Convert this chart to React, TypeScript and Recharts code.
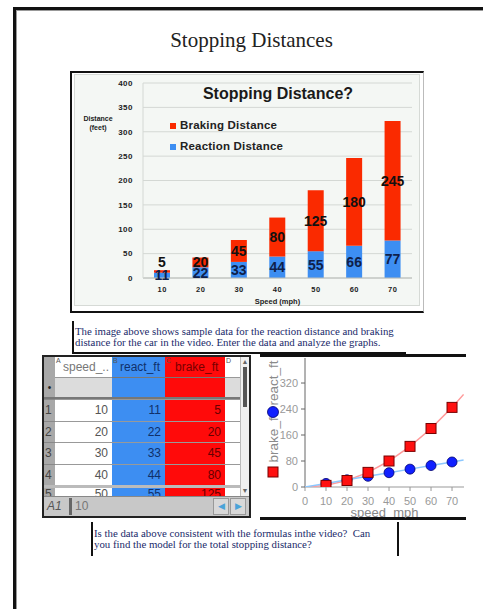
import React from 'react';
import { BarChart, Bar, XAxis, YAxis, CartesianGrid, Legend, LabelList, ScatterChart, Scatter } from 'recharts';

const speeds = [10, 20, 30, 40, 50, 60, 70];
const reactionFt = [11, 22, 33, 44, 55, 66, 77];
const brakingFt = [5, 20, 45, 80, 125, 180, 245];
const barYTicks = [0, 50, 100, 150, 200, 250, 300, 350, 400];
const scatterXTicks = [0, 10, 20, 30, 40, 50, 60, 70];
const scatterYTicks = [0, 80, 160, 240, 320];
const fitSpeeds = [0, 10, 20, 30, 40, 50, 60, 70, 75.5];
const fitBrake = [0, 5, 20, 45, 80, 125, 180, 245, 285];
const fitReact = [0, 11, 22, 33, 44, 55, 66, 77, 83];

const barData = speeds.map((s, i) => ({ speed: String(s), reaction: reactionFt[i], braking: brakingFt[i] }));
const reactPts = speeds.map((s, i) => ({ x: s, y: reactionFt[i] }));
const brakePts = speeds.map((s, i) => ({ x: s, y: brakingFt[i] }));
const reactFitPts = fitSpeeds.map((s, i) => ({ x: s, y: fitReact[i] }));
const brakeFitPts = fitSpeeds.map((s, i) => ({ x: s, y: fitBrake[i] }));

const SANS = 'Arial, "Liberation Sans", Helvetica, sans-serif';
const SERIF = '"Liberation Serif", "Times New Roman", serif';

const RED = '#fa2a00';
const BLUE = '#3d8ef2';

const reactLabel = (p: any) => {
  const { x, y, width, height, value } = p;
  return (
    <text x={x + width / 2} y={y + height / 2} dy="0.36em" textAnchor="middle" fontFamily={SANS} fontWeight={700} fontSize={14} fill="#0f1f4a">{value}</text>
  );
};
const brakeLabel = (p: any) => {
  const { x, y, width, height, value } = p;
  const cy = height < 8 ? y - 8 : y + height / 2;
  return (
    <text x={x + width / 2} y={cy} dy="0.36em" textAnchor="middle" fontFamily={SANS} fontWeight={700} fontSize={14} fill="#111">{value}</text>
  );
};

const BarLegend = () => (
  <div style={{ fontFamily: SANS, fontWeight: 700, fontSize: 11.5, color: '#222', lineHeight: '21px', letterSpacing: 0.2 }}>
    <div style={{ display: 'flex', alignItems: 'center' }}>
      <span style={{ display: 'inline-block', width: 6, height: 6, background: RED, marginRight: 4 }} />Braking Distance
    </div>
    <div style={{ display: 'flex', alignItems: 'center' }}>
      <span style={{ display: 'inline-block', width: 6, height: 6, background: BLUE, marginRight: 4 }} />Reaction Distance
    </div>
  </div>
);

const DistanceLabel = () => (
  <g>
    <text x={28} y={48} dy="0.35em" textAnchor="middle" fontFamily={SANS} fontWeight={700} fontSize={7} fill="#222">Distance</text>
    <text x={28} y={57} dy="0.35em" textAnchor="middle" fontFamily={SANS} fontWeight={700} fontSize={7} fill="#222">(feet)</text>
  </g>
);

const ScatterYLabel = (p: any) => {
  const vb = p.viewBox || { x: 0, y: 3 };
  const x = vb.x + 13;
  const y0 = vb.y;
  return (
    <g>
      <rect x={x - 5} y={y0 + 109} width={10} height={10} fill="#ff1010" stroke="#700" strokeWidth={1} />
      <text transform={`translate(${x},${y0 + 80}) rotate(-90)`} dy="0.35em" textAnchor="middle" fontFamily={SANS} fontSize={13.5} fill="#8a8a8a">brake_ft</text>
      <circle cx={x} cy={y0 + 54} r={5.5} fill="#1020ff" stroke="#000070" strokeWidth={0.8} />
      <text transform={`translate(${x},${y0 + 25}) rotate(-90)`} dy="0.35em" textAnchor="middle" fontFamily={SANS} fontSize={13.5} fill="#8a8a8a">react_ft</text>
    </g>
  );
};

const EmptyShape = () => <g />;
const CircleShape = (p: any) => <circle cx={p.cx} cy={p.cy} r={5} fill="#1020ff" stroke="#000070" strokeWidth={0.8} />;
const SquareShape = (p: any) => <rect x={p.cx - 5} y={p.cy - 5} width={10} height={10} fill="#ff1010" stroke="#700" strokeWidth={1} />;

const abs = (left: number, top: number, width: number, height: number, extra: any = {}) => ({
  position: 'absolute' as const, left, top, width, height, boxSizing: 'border-box' as const, ...extra,
});

const Spreadsheet = () => {
  const rowTops = [41, 62.5, 84, 105.5, 127];
  const cols = [
    { left: 11, width: 57, bg: '#fff', color: '#555', vals: speeds },
    { left: 68, width: 53, bg: BLUE, color: '#10306a', vals: reactionFt },
    { left: 121, width: 60, bg: '#ff0a0a', color: '#600', vals: brakingFt },
  ];
  return (
    <div style={abs(42, 355, 209, 163, { border: '2px solid #222', background: '#d0d0d0', overflow: 'hidden', fontFamily: SANS })}>
      <div style={abs(0, 0, 11, 139, { background: '#a8a8a8' })} />
      <div style={abs(11, 0, 57, 20, { background: '#fff', color: '#777', fontSize: 12, lineHeight: '20px', paddingLeft: 8 })}>speed_..</div>
      <div style={abs(68, 0, 53, 20, { background: BLUE, color: '#10306a', fontSize: 12, lineHeight: '20px', paddingLeft: 8 })}>react_ft</div>
      <div style={abs(121, 0, 60, 20, { background: '#ff0a0a', color: '#700', fontSize: 12, lineHeight: '20px', paddingLeft: 10 })}>brake_ft</div>
      <div style={abs(181, 0, 15, 20, { background: '#fff' })} />
      {['A', 'B', 'C', 'D'].map((c, i) => (
        <div key={c} style={abs([12, 69, 122, 182][i], 0, 8, 8, { fontSize: 7, color: '#555', lineHeight: '8px' })}>{c}</div>
      ))}
      <div style={abs(0, 20, 11, 21, { fontSize: 10, lineHeight: '21px', textAlign: 'center', color: '#222' })}>•</div>
      <div style={abs(11, 20, 57, 21, { background: '#dcdcdc', borderTop: '1px solid #999' })} />
      <div style={abs(68, 20, 53, 21, { background: BLUE, borderTop: '1px solid #777' })} />
      <div style={abs(121, 20, 60, 21, { background: '#ff0a0a', borderTop: '1px solid #777' })} />
      <div style={abs(181, 20, 15, 21, { background: '#dcdcdc', borderTop: '1px solid #999' })} />
      <div style={abs(0, 40, 196, 2, { background: '#777' })} />
      {rowTops.map((t, r) => {
        const last = r === 4;
        const bt = last ? '3px solid #bbb' : '1px solid #999';
        const lh = last ? '12px' : '20px';
        return (
          <React.Fragment key={r}>
            <div style={abs(0, t + 1, 11, 21.5, { color: '#444', fontSize: 12, lineHeight: lh, paddingLeft: 1, borderTop: last ? '3px solid #bbb' : '1px solid #888' })}>{r + 1}</div>
            {cols.map((c, ci) => (
              <div key={ci} style={abs(c.left, t + 1, c.width, 21.5, { background: c.bg, color: c.color, fontSize: 12, lineHeight: lh, textAlign: 'right', paddingRight: 4, borderTop: bt })}>{c.vals[r]}</div>
            ))}
            <div style={abs(181, t + 1, 15, 21.5, { background: '#fff', borderTop: bt })} />
          </React.Fragment>
        );
      })}
      <div style={abs(196, 0, 9, 139, { background: '#f0f0f0', borderLeft: '1px solid #bbb' })} />
      <div style={abs(197, 1, 8, 8, { fontSize: 7, color: '#666', textAlign: 'center', lineHeight: '8px' })}>▲</div>
      <div style={abs(199, 10, 4, 40, { background: '#555' })} />
      <div style={abs(197, 130, 8, 8, { fontSize: 7, color: '#666', textAlign: 'center', lineHeight: '8px' })}>▼</div>
      <div style={abs(0, 139, 205, 20, { background: '#c8c8c8', borderTop: '1px solid #888' })} />
      <div style={abs(3, 139, 18, 20, { fontSize: 12, fontStyle: 'italic', color: '#555', lineHeight: '20px' })}>A1</div>
      <div style={abs(25, 141, 3, 17, { background: '#666' })} />
      <div style={abs(31, 139, 40, 20, { fontSize: 12, color: '#777', lineHeight: '20px' })}>10</div>
      <div style={abs(169, 141, 16, 17, { background: '#d8d8d8', border: '1px solid #999', fontSize: 9, color: '#4aa3d8', textAlign: 'center', lineHeight: '15px' })}>◀</div>
      <div style={abs(186, 141, 16, 17, { background: '#d8d8d8', border: '1px solid #999', fontSize: 9, color: '#4aa3d8', textAlign: 'center', lineHeight: '15px' })}>▶</div>
    </div>
  );
};

export default function App() {
  return (
    <div style={{ position: 'absolute', left: 0, top: 0, width: 483, height: 609, overflow: 'hidden', background: '#fff' }}>
      <div style={abs(13, 7, 520, 640, { borderLeft: '3px solid #111', borderTop: '3px solid #111', boxShadow: 'inset 1px 1px 0 #999' })} />
      <div style={abs(110, 27, 283, 26, { fontFamily: SERIF, fontSize: 21, color: '#222', textAlign: 'center', lineHeight: '26px' })}>Stopping Distances</div>

      <div style={abs(70, 71, 354, 242, { borderTop: '2px solid #111', borderLeft: '2px solid #111', borderBottom: '2px solid #111', borderRight: '1px solid #bbb', background: '#fff' })} />
      <div style={abs(74, 74, 346, 232, { background: '#f4f7f4', border: '1px solid #d6dad6' })} />
      <div style={abs(70, 71, 354, 241)}>
        <BarChart width={354} height={241} data={barData} margin={{ top: 12, right: 12, left: 0, bottom: 0 }} barSize={16}>
          <CartesianGrid vertical={false} stroke="#d4d8d4" />
          <XAxis dataKey="speed" height={34} tickLine={false} axisLine={{ stroke: '#b8bcb8' }} tickMargin={3}
            tick={{ fontSize: 7.5, fontWeight: 700, fill: '#222', fontFamily: SANS, letterSpacing: 0.5 }}
            label={{ value: 'Speed (mph)', position: 'insideBottom', offset: 8, fontSize: 7.5, fontWeight: 700, fill: '#222', fontFamily: SANS }} />
          <YAxis width={73} domain={[0, 400]} ticks={barYTicks} interval={0} tickLine={false} axisLine={{ stroke: '#d4d8d4' }} tickMargin={4}
            tick={{ fontSize: 8, fontWeight: 700, fill: '#222', fontFamily: SANS, letterSpacing: 0.5 }}
            label={<DistanceLabel />} />
          <Legend content={BarLegend} layout="vertical" align="center" verticalAlign="middle"
            wrapperStyle={{ position: 'absolute', left: 100, top: 44, width: 180 }} />
          <Bar dataKey="reaction" stackId="a" fill={BLUE} isAnimationActive={false}>
            <LabelList dataKey="reaction" content={reactLabel} />
          </Bar>
          <Bar dataKey="braking" stackId="a" fill={RED} isAnimationActive={false}>
            <LabelList dataKey="braking" content={brakeLabel} />
          </Bar>
        </BarChart>
      </div>
      <div style={abs(120, 84, 316, 20, { fontFamily: SANS, fontWeight: 700, fontSize: 16, color: '#1a1a1a', textAlign: 'center', lineHeight: '20px' })}>Stopping Distance?</div>

      <div style={abs(72, 321, 334, 33, { borderLeft: '2px solid #111', borderBottom: '2px solid #111' })} />
      <div style={abs(75, 326, 335, 24, { fontFamily: SERIF, fontSize: 10.8, lineHeight: '11px', color: '#1a2a6a', whiteSpace: 'nowrap' })}>
        The image above shows sample data for the reaction distance and braking<br />
        distance for the car in the video. Enter the data and analyze the graphs.
      </div>

      <Spreadsheet />

      <div style={abs(260, 354, 206, 3, { background: '#111' })} />
      <div style={abs(260, 517, 206, 3, { background: '#111' })} />
      <div style={abs(260, 355, 205, 163)}>
        <ScatterChart width={205} height={163} margin={{ top: 3, right: 1, left: 0, bottom: 0 }}>
          <XAxis type="number" dataKey="x" domain={[0, 75.7]} ticks={scatterXTicks} interval={0} allowDataOverflow height={31}
            tickSize={4} tickMargin={6} stroke="#999" tick={{ fontSize: 11, fill: '#999', fontFamily: SANS }}
            label={{ value: 'speed_mph', position: 'insideBottom', offset: 1, fontSize: 13, fill: '#888', fontFamily: SANS }} />
          <YAxis type="number" dataKey="y" domain={[0, 397]} ticks={scatterYTicks} interval={0} allowDataOverflow width={45}
            tickSize={4} tickMargin={3} stroke="#666" tick={{ fontSize: 11, fill: '#999', fontFamily: SANS }}
            label={<ScatterYLabel />} />
          <Scatter data={brakeFitPts} line={{ stroke: '#ff9a9a', strokeWidth: 1.5 }} shape={EmptyShape} isAnimationActive={false} />
          <Scatter data={reactFitPts} line={{ stroke: '#8cc8ff', strokeWidth: 1.5 }} shape={EmptyShape} isAnimationActive={false} />
          <Scatter data={reactPts} shape={CircleShape} isAnimationActive={false} />
          <Scatter data={brakePts} shape={SquareShape} isAnimationActive={false} />
        </ScatterChart>
      </div>

      <div style={abs(91, 522, 308, 34, { borderLeft: '2px solid #111', borderRight: '2px solid #111' })} />
      <div style={abs(94, 528, 300, 24, { fontFamily: SERIF, fontSize: 10.8, lineHeight: '11px', color: '#1a2a6a', whiteSpace: 'nowrap' })}>
        Is the data above consistent with the formulas inthe video?&nbsp; Can<br />
        you find the model for the total stopping distance?
      </div>
    </div>
  );
}
